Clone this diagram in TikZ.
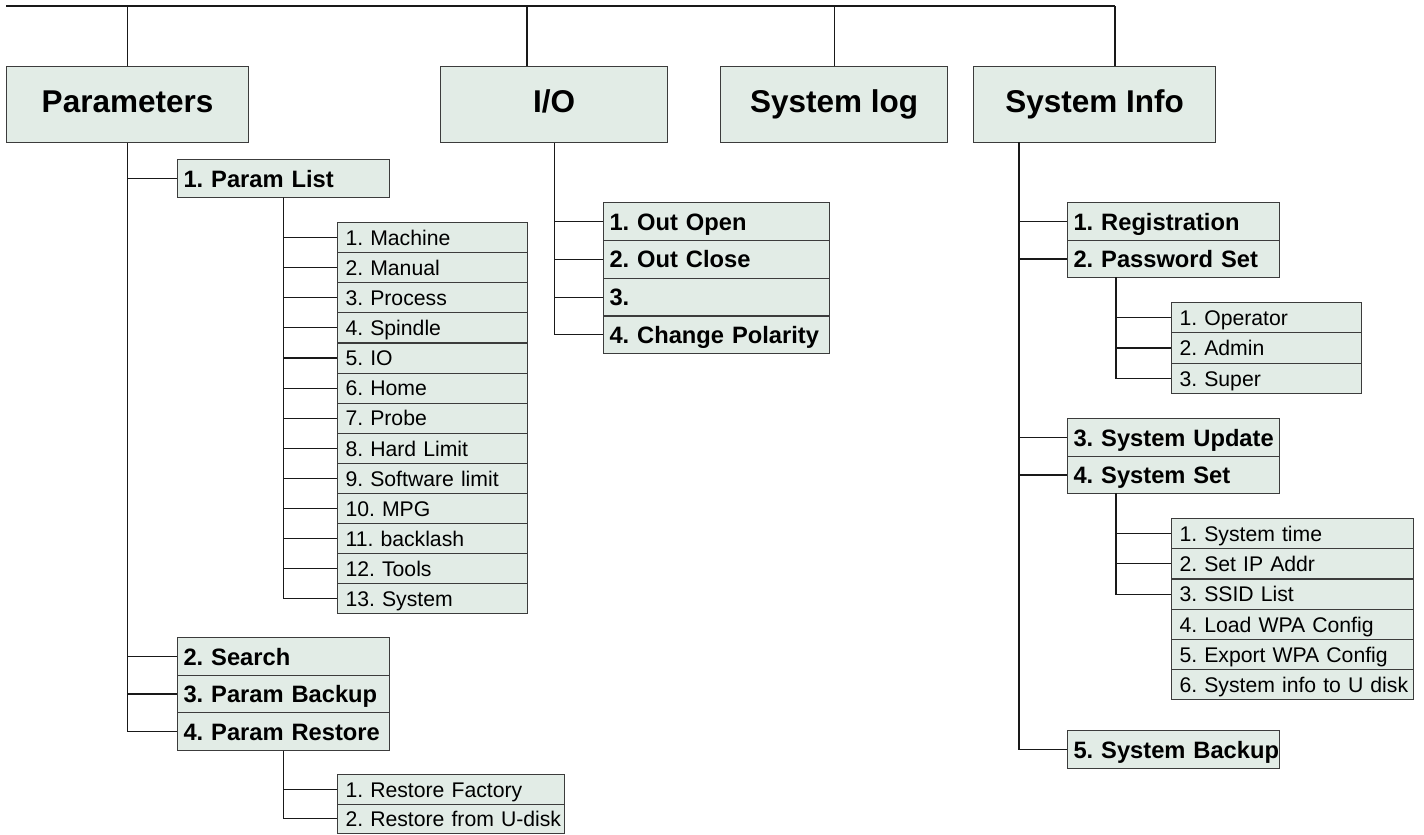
\documentclass[tikz,border=0pt]{standalone}
\usepackage{fontspec}
\setmainfont{Liberation Sans}
\frenchspacing
\definecolor{boxfill}{RGB}{226,236,230}
\definecolor{boxline}{RGB}{60,60,60}
\definecolor{conn}{RGB}{25,25,25}
\tikzset{
  box/.style={draw=boxline, fill=boxfill, line width=1.1pt, inner sep=0pt, rectangle},
  topbox/.style={box, anchor=north west, minimum height=76pt,
    font=\fontsize{31.5}{36}\selectfont\bfseries, text height=23pt, text depth=8pt},
  midbox/.style={box, anchor=north west, minimum height=37.6pt, minimum width=#1, text width=#1,
    align=left, font=\fontsize{23.7}{28}\selectfont\bfseries, text height=17.3pt, text depth=0pt,
    execute at begin node={\noindent\hspace*{6pt}\hbox\bgroup}, execute at end node={\egroup}},
  lowbox/.style={box, anchor=north west, minimum height=30.1pt, minimum width=#1, text width=#1,
    align=left, font=\fontsize{21.2}{25}\selectfont, text height=15.5pt, text depth=0pt,
    execute at begin node={\noindent\hspace*{8pt}\hbox\bgroup}, execute at end node={\egroup}},
  link/.style={draw=conn, line width=1.1pt}
}
\begin{document}
\begin{tikzpicture}[x=1pt,y=-1pt]
\useasboundingbox (0,0) rectangle (1424,835);

% top level
\node[topbox, minimum width=242pt] (param) at (6,66) {Parameters};
\node[topbox, minimum width=227pt] (io) at (440,66) {I/O};
\node[topbox, minimum width=227pt] (slog) at (720,66) {System log};
\node[topbox, minimum width=242pt] (sinfo) at (973,66) {System Info};

% Parameters
\node[midbox=212pt] (plist) at (177,159) {1. Param List};
\foreach \t [count=\i] in {1. Machine, 2. Manual, 3. Process, 4. Spindle, 5. IO, 6. Home, 7. Probe, 8. Hard Limit, 9. Software limit, 10. MPG, 11. backlash, 12. Tools, 13. System}
  \node[lowbox=190pt] (m\i) at (337,{222+30.1*(\i-1)}) {\t};
\node[midbox=212pt] (search) at (177,637) {2. Search};
\node[midbox=212pt] (pbackup) at (177,674.6) {3. Param Backup};
\node[midbox=212pt] (prestore) at (177,712.2) {4. Param Restore};
\node[lowbox=227pt, minimum height=29.5pt] (rf1) at (337,774) {1. Restore Factory};
\node[lowbox=227pt, minimum height=29.5pt] (rf2) at (337,803.5) {2. Restore from U-disk};

% I/O
\foreach \t [count=\i] in {1. Out Open, 2. Out Close, 3., 4. Change Polarity}
  \node[midbox=226pt, minimum height=37.8pt] (io\i) at (603,{202+37.8*(\i-1)}) {\t};

% System Info
\node[midbox=212pt] (reg) at (1067,202) {1. Registration};
\node[midbox=212pt] (pwd) at (1067,239.6) {2. Password Set};
\foreach \t [count=\i] in {1. Operator, 2. Admin, 3. Super}
  \node[lowbox=190pt, minimum height=30.3pt] (op\i) at (1171,{302+30.3*(\i-1)}) {\t};
\node[midbox=212pt] (supd) at (1067,418) {3. System Update};
\node[midbox=212pt] (sset) at (1067,455.6) {4. System Set};
\foreach \t [count=\i] in {1. System time, 2. Set IP Addr, 3. SSID List, 4. Load WPA Config, 5. Export WPA Config, 6. System info to U disk}
  \node[lowbox=242pt, minimum height=30.2pt] (ss\i) at (1171,{518+30.2*(\i-1)}) {\t};
\node[midbox=212pt] (sbak) at (1067,730) {5. System Backup};

% bus
\coordinate (busL) at (6,6);
\coordinate (busR) at (1115,6);
\coordinate (ioIn) at (527,66);
\coordinate (siIn) at (1115,66);
\draw[link] (busL) -- (busR);
\draw[link] (param.north) -- (param.north |- busL);
\draw[link] (ioIn) -- (ioIn |- busL);
\draw[link] (slog.north) -- (slog.north |- busL);
\draw[link] (siIn) -- (busR);

% Parameters connectors
\foreach \n in {plist, search, pbackup, prestore}
  \draw[link] (param.south) |- (\n.west);
\foreach \i in {1,...,13}
  \draw[link] (plist.south) |- (m\i.west);
\foreach \n in {rf1, rf2}
  \draw[link] (prestore.south) |- (\n.west);

% I/O connectors
\foreach \i in {1,...,4}
  \draw[link] (io.south) |- (io\i.west);

% System Info connectors
\coordinate (siOut) at (1019,142);
\coordinate (pwdOut) at (1116,277.2);
\coordinate (ssOut) at (1116,493.2);
\foreach \n in {reg, pwd, supd, sset, sbak}
  \draw[link] (siOut) |- (\n.west);
\foreach \i in {1,2,3}
  \draw[link] (pwdOut) |- (op\i.west);
\foreach \i in {1,2,3}
  \draw[link] (ssOut) |- (ss\i.west);
\end{tikzpicture}
\end{document}
